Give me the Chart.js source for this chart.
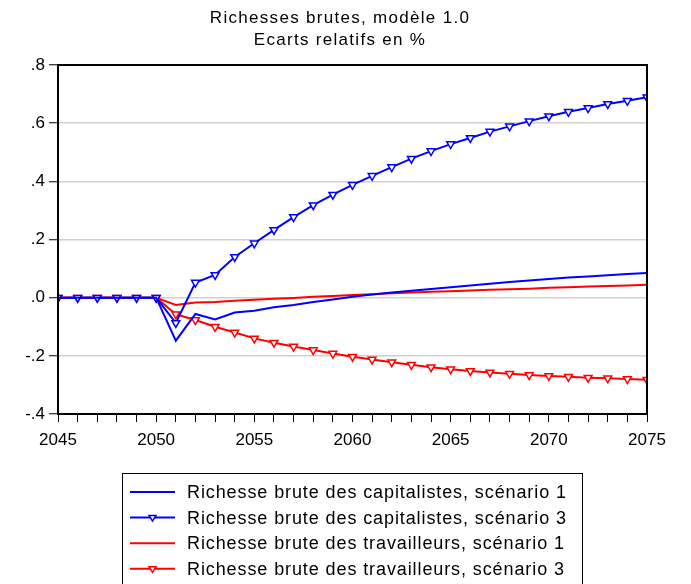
<!DOCTYPE html>
<html>
<head>
<meta charset="utf-8">
<script src="https://cdn.jsdelivr.net/npm/chart.js@4/dist/chart.umd.min.js"></script>
<style>
  html, body { margin: 0; padding: 0; background: #ffffff; }
  canvas { display: block; }
</style>
</head>
<body>
<canvas id="c" width="691" height="584"></canvas>
<script>
const years = [2045,2046,2047,2048,2049,2050,2051,2052,2053,2054,2055,2056,2057,2058,2059,2060,
               2061,2062,2063,2064,2065,2066,2067,2068,2069,2070,2071,2072,2073,2074,2075];

const capitalistes1 = [0,0,0,0,0,0,-0.148,-0.056,-0.075,-0.051,-0.045,-0.033,-0.025,-0.015,-0.006,0.003,
                       0.011,0.018,0.024,0.030,0.036,0.042,0.048,0.054,0.059,0.064,0.069,0.073,0.077,0.081,0.085];
const capitalistes3 = [0,0,0,0,0,0,-0.087,0.052,0.078,0.140,0.187,0.233,0.277,0.318,0.354,0.388,
                       0.419,0.449,0.478,0.504,0.528,0.549,0.571,0.589,0.607,0.624,0.639,0.652,0.666,0.677,0.689];
const travailleurs1 = [0,0,0,0,0,0,-0.025,-0.017,-0.015,-0.011,-0.007,-0.004,-0.001,0.003,0.006,0.009,
                       0.012,0.015,0.018,0.020,0.022,0.025,0.027,0.029,0.031,0.034,0.036,0.038,0.040,0.042,0.044];
const travailleurs3 = [0,0,0,0,0,0,-0.057,-0.077,-0.100,-0.120,-0.140,-0.155,-0.168,-0.180,-0.192,-0.203,
                       -0.213,-0.222,-0.231,-0.239,-0.246,-0.252,-0.257,-0.262,-0.266,-0.269,-0.272,-0.275,-0.277,-0.280,-0.282];

const seriesLabels = [
  'Richesse brute des capitalistes, scénario 1',
  'Richesse brute des capitalistes, scénario 3',
  'Richesse brute des travailleurs, scénario 1',
  'Richesse brute des travailleurs, scénario 3'
];
const titleLines = ['Richesses brutes, modèle 1.0', 'Ecarts relatifs en %'];
const yTickValues = [-0.4,-0.2,0,0.2,0.4,0.6,0.8];
const xLabelYears = [2045,2050,2055,2060,2065,2070,2075];

const BLUE = '#0000ff', RED = '#ff0000';
const FONT = "'Liberation Sans', Arial, sans-serif";

function toXY(vals) { return vals.map((v, i) => ({ x: years[i], y: v })); }

function mkDs(label, vals, color, markers) {
  return {
    label: label,
    data: toXY(vals),
    borderColor: color,
    backgroundColor: '#ffffff',
    borderWidth: 2,
    pointStyle: 'triangle',
    rotation: 180,
    pointRadius: markers ? 4.5 : 0,
    pointHoverRadius: markers ? 4.5 : 0,
    pointBorderColor: color,
    pointBackgroundColor: '#ffffff',
    pointBorderWidth: 1.5,
    tension: 0,
    _markers: markers
  };
}

const titlePlugin = {
  id: 'spacedTitle',
  afterDraw(chart) {
    const ctx = chart.ctx;
    ctx.save();
    ctx.font = '17px ' + FONT;
    ctx.letterSpacing = '1.3px';
    ctx.fillStyle = '#000';
    ctx.textAlign = 'center';
    ctx.textBaseline = 'middle';
    ctx.fillText(titleLines[0], 340, 18);
    ctx.fillText(titleLines[1], 340, 40);
    ctx.restore();
  }
};

const framePlugin = {
  id: 'frame',
  afterDatasetsDraw(chart) {
    const a = chart.chartArea, ctx = chart.ctx;
    ctx.save();
    ctx.strokeStyle = '#000';
    ctx.lineWidth = 2;
    ctx.strokeRect(a.left, a.top, a.right - a.left, a.bottom - a.top);
    ctx.restore();
  }
};

const legendPlugin = {
  id: 'boxLegend',
  afterDraw(chart) {
    const ctx = chart.ctx;
    const bx = 122, by = 473, bw = 460, bh = 130;
    const rowY0 = 492, rowStep = 25.6;
    const lx0 = 130, lx1 = 175, tx = 187;
    ctx.save();
    ctx.strokeStyle = '#000';
    ctx.lineWidth = 1;
    ctx.strokeRect(bx + 0.5, by + 0.5, bw, bh);
    ctx.font = '18px ' + FONT;
    ctx.letterSpacing = '0.9px';
    ctx.textBaseline = 'middle';
    chart.data.datasets.forEach((ds, i) => {
      const y = rowY0 + i * rowStep;
      ctx.strokeStyle = ds.borderColor;
      ctx.lineWidth = 2;
      ctx.beginPath();
      ctx.moveTo(lx0, y);
      ctx.lineTo(lx1, y);
      ctx.stroke();
      if (ds._markers) {
        const cx = (lx0 + lx1) / 2, r = 3.5;
        ctx.beginPath();
        ctx.moveTo(cx - r, y - r * 0.6);
        ctx.lineTo(cx + r, y - r * 0.6);
        ctx.lineTo(cx, y + r);
        ctx.closePath();
        ctx.fillStyle = '#fff';
        ctx.fill();
        ctx.lineWidth = 1.5;
        ctx.stroke();
      }
      ctx.fillStyle = '#000';
      ctx.fillText(ds.label, tx, y + 1);
    });
    ctx.restore();
  }
};

new Chart(document.getElementById('c'), {
  type: 'line',
  data: {
    datasets: [
      mkDs(seriesLabels[0], capitalistes1, BLUE, false),
      mkDs(seriesLabels[1], capitalistes3, BLUE, true),
      mkDs(seriesLabels[2], travailleurs1, RED, false),
      mkDs(seriesLabels[3], travailleurs3, RED, true)
    ]
  },
  options: {
    responsive: false,
    animation: false,
    devicePixelRatio: 1,
    layout: { padding: { left: 0, right: 44, top: 65, bottom: 120 } },
    plugins: {
      legend: { display: false },
      tooltip: { enabled: false },
      title: { display: false }
    },
    scales: {
      x: {
        type: 'linear',
        min: years[0],
        max: years[years.length - 1],
        afterFit(s) { s.height = 50; },
        ticks: {
          stepSize: 1,
          autoSkip: false,
          maxRotation: 0,
          padding: 8,
          color: '#000',
          font: { family: FONT, size: 17 },
          callback: (v) => xLabelYears.includes(v) ? String(v) : ''
        },
        grid: { display: true, drawOnChartArea: false, drawTicks: true, tickLength: 8, tickColor: '#000', tickWidth: 1 },
        border: { display: true, color: '#000', width: 2 }
      },
      y: {
        min: -0.4,
        max: 0.8,
        afterFit(s) { s.width = 58; },
        afterBuildTicks(s) { s.ticks = yTickValues.map(v => ({ value: v })); },
        ticks: {
          padding: 4,
          color: '#000',
          font: { family: FONT, size: 17 },
          callback: (v) => {
            if (Math.abs(v) < 1e-9) return '.0';
            return (v < 0 ? '-' : '') + '.' + Math.round(Math.abs(v) * 10);
          }
        },
        grid: { display: true, color: '#d0d0d0', lineWidth: 1.5, drawTicks: true, tickLength: 9, tickColor: '#000', tickWidth: 1 },
        border: { display: true, color: '#000', width: 2 }
      }
    }
  },
  plugins: [framePlugin, titlePlugin, legendPlugin]
});
</script>
</body>
</html>
